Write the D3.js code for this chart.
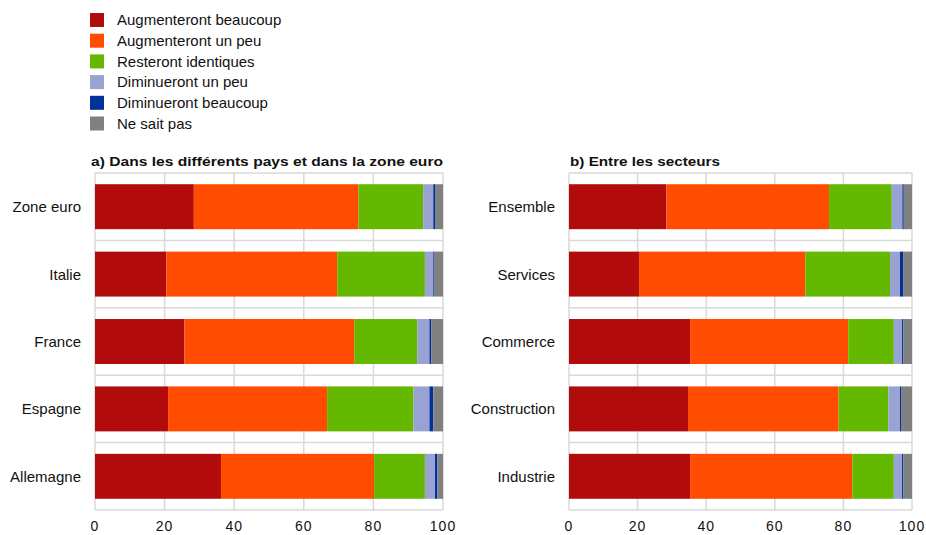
<!DOCTYPE html>
<html><head><meta charset="utf-8">
<script src="https://cdn.jsdelivr.net/npm/d3@7"></script>
<style>
html,body{margin:0;padding:0;background:#fff;}
svg{display:block;font-family:"Liberation Sans",Arial,sans-serif;}
</style></head>
<body><svg id="c" width="926" height="535"></svg>
<script>
const seriesNames = ["Augmenteront beaucoup","Augmenteront un peu","Resteront identiques","Diminueront un peu","Diminueront beaucoup","Ne sait pas"];
const seriesColors = ["#b20b0c","#ff4c00","#64b800","#99a3d3","#003399","#808080"];
const xTicks = [0,20,40,60,80,100];

const categoriesA = ["Zone euro","Italie","France","Espagne","Allemagne"];
const augBeaucoupA = [28.4,20.5,25.7,21.0,36.2];
const augPeuA      = [47.3,49.1,48.8,45.7,44.0];
const identiquesA  = [18.6,25.2,18.1,24.8,14.6];
const dimPeuA      = [2.9,2.4,3.5,4.6,2.9];
const dimBeaucoupA = [0.5,0.2,0.5,1.1,0.7];
const nspA         = [2.3,2.6,3.4,2.8,1.6];

const categoriesB = ["Ensemble","Services","Commerce","Construction","Industrie"];
const augBeaucoupB = [28.4,20.4,35.3,34.7,35.3];
const augPeuB      = [47.4,48.5,46.1,43.9,47.3];
const identiquesB  = [18.3,24.7,13.3,14.5,12.1];
const dimPeuB      = [3.1,2.9,2.4,3.4,2.4];
const dimBeaucoupB = [0.4,0.9,0.4,0.3,0.4];
const nspB         = [2.4,2.6,2.5,3.2,2.5];

const titleA = "a) Dans les différents pays  et dans la zone euro";
const titleB = "b) Entre les  secteurs";

const svg = d3.select("#c");

// Legend
const leg = svg.append("g");
seriesNames.forEach((n,i)=>{
  const y = 20 + i*20.7;
  leg.append("rect").attr("x",90).attr("y",y-7).attr("width",14).attr("height",14).attr("fill",seriesColors[i]);
  leg.append("text").attr("x",117).attr("y",y+5.2).attr("font-size",15).attr("fill","#111").text(n);
});

function panel(cats, vals, title, x0, x1, y0, y1, labelGap){
  const keys = seriesNames;
  const rows = cats.map((c,i)=>{const o={cat:c}; keys.forEach((k,j)=>o[k]=vals[j][i]); return o;});
  const x = d3.scaleLinear().domain([0,100]).range([x0,x1]);
  const y = d3.scaleBand().domain(cats).range([y0,y1]).paddingInner(0.333).paddingOuter(0.1665);
  const g = svg.append("g");
  const step = y.step();
  // grid
  g.selectAll(".vg").data(xTicks).join("line")
    .attr("x1",d=>x(d)).attr("x2",d=>x(d)).attr("y1",y0).attr("y2",y1)
    .attr("stroke","#d9d9d9").attr("stroke-width",1.5);
  d3.range(cats.length+1).forEach(i=>{
    g.append("line").attr("x1",x0).attr("x2",x1).attr("y1",y0+i*step).attr("y2",y0+i*step)
     .attr("stroke","#d9d9d9").attr("stroke-width",1.5);
  });
  const stack = d3.stack().keys(keys)(rows);
  stack.forEach((s,j)=>{
    g.append("g").attr("fill",seriesColors[j]).selectAll("rect").data(s).join("rect")
      .attr("x",d=>x(d[0])).attr("width",d=>Math.max(0,x(d[1])-x(d[0])))
      .attr("y",d=>y(d.data.cat)).attr("height",y.bandwidth());
  });
  // category labels
  g.selectAll(".cl").data(cats).join("text")
    .attr("x",x0-labelGap).attr("y",d=>y(d)+y.bandwidth()/2+5.5)
    .attr("text-anchor","end").attr("font-size",15).attr("fill","#111").text(d=>d);
  // tick labels
  g.selectAll(".tl").data(xTicks).join("text")
    .attr("x",d=>x(d)).attr("y",531).attr("text-anchor","middle")
    .attr("font-size",14).attr("letter-spacing",1).attr("fill","#111").text(d=>d);
  return {x,y,g};
}

panel(categoriesA,[augBeaucoupA,augPeuA,identiquesA,dimPeuA,dimBeaucoupA,nspA],titleA,95,443,173,510,14);
panel(categoriesB,[augBeaucoupB,augPeuB,identiquesB,dimPeuB,dimBeaucoupB,nspB],titleB,569,912,173,510,14);

svg.append("text").attr("x",91).attr("y",166).attr("font-size",13.5).attr("font-weight","bold")
  .attr("fill","#111").attr("textLength",352).attr("lengthAdjust","spacingAndGlyphs").text(titleA);
svg.append("text").attr("x",570).attr("y",166).attr("font-size",13.5).attr("font-weight","bold")
  .attr("fill","#111").attr("textLength",150).attr("lengthAdjust","spacingAndGlyphs").text(titleB);
</script></body></html>
